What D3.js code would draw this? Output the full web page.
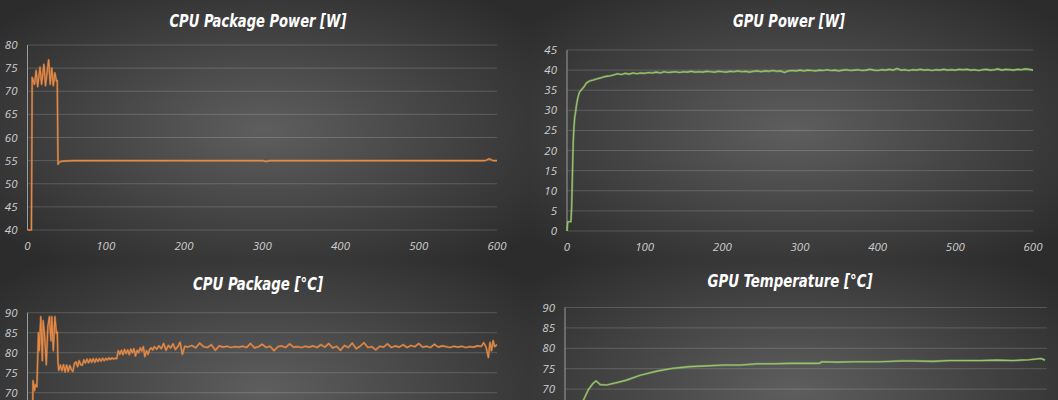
<!DOCTYPE html>
<html><head><meta charset="utf-8">
<script src="https://cdn.jsdelivr.net/npm/d3@7"></script>
<style>
html,body{margin:0;padding:0;background:#333;overflow:hidden}
svg{display:block}
</style></head><body>
<svg id="c" width="1058" height="400"></svg>
<script>
// ---------- DATA ----------
const xTicks = [0,100,200,300,400,500,600];

const cpuPowerTime  = [0,5,6,9,11,13,16,18,21,23,27,29,31,33,35,37,38,39,40,45,60,100,300,305,310,400,500,585,590,595,600];
const cpuPowerValue = [30,30,73,71.5,74.5,71,75.2,71.5,75.8,71.2,76.8,71.5,75,71.2,74,72.2,72.3,54.2,54.6,54.9,55,55,55,54.8,55,55,55,55,55.4,55,55];
const cpuPowerTicks = [40,45,50,55,60,65,70,75,80];

const gpuPowerTime = [0,1,2,5,6,7,8,9,10,11,12,14,16,19,22,25,29,33,38,42,47,52,56,
  60,65,70,75,80,85,90,95,100,105,110,115,120,125,130,135,140,145,150,155,160,165,170,175,180,185,190,195,
  200,205,210,215,220,225,230,235,240,245,250,255,260,265,270,275,280,285,290,295,300,305,310,315,320,325,
  330,335,340,345,350,355,360,365,370,375,380,385,390,395,400,405,410,415,420,425,430,435,440,445,450,455,
  460,465,470,475,480,485,490,495,500,505,510,515,520,525,530,535,540,545,550,555,560,565,570,575,580,585,590,595,600];
const gpuPowerValue = [0,2.3,2.3,2.3,6,14,22,26,28.4,29.5,31,33.2,34.5,35.2,35.9,36.8,37.3,37.5,37.8,38.0,38.3,38.5,38.6,
  38.8,39.1,38.9,39.2,39.0,39.3,39.1,39.3,39.2,39.4,39.3,39.5,39.3,39.6,39.4,39.5,39.6,39.4,39.6,39.5,39.7,39.5,39.6,39.5,39.7,39.6,39.5,39.7,
  39.6,39.5,39.7,39.6,39.8,39.6,39.7,39.5,39.7,39.8,39.6,39.8,39.7,39.9,39.7,39.8,39.4,39.8,39.9,39.8,40.0,39.8,40.0,39.9,39.8,40.0,
  39.9,40.1,39.9,40.0,39.8,40.0,40.1,39.9,40.0,40.1,39.9,40.0,40.2,40.0,39.9,40.1,40.0,40.2,40.0,40.4,40.0,40.1,39.9,40.1,40.0,40.2,
  40.0,40.1,39.9,40.1,40.0,40.2,40.0,40.1,40.0,40.2,40.1,40.2,40.0,40.1,39.9,40.1,40.2,40.0,40.1,40.3,40.0,40.2,40.1,40.0,40.2,40.1,40.3,40.2,40.0];
const gpuPowerTicks = [0,5,10,15,20,25,30,35,40,45];

const cpuTempTime = [0,6,7,9,10,12,14,15,17,19,20,22,24,26,28,30,31,33,35,37,38,39,40,
  42,44,46,48,50,52,54,56,58,60,62,64,66,68,70,72,74,76,78,80,82,84,86,88,90,92,94,96,98,100,102,104,106,108,110,112,114,
  116,118,120,122,124,126,128,130,132,134,136,138,140,142,144,146,148,150,152,154,156,158,160,162,165,168,171,174,177,180,183,186,189,192,195,198,201,
  205,210,215,220,225,230,235,240,245,250,255,260,265,270,275,280,285,290,295,300,305,310,315,320,325,330,335,340,345,350,355,360,365,370,375,380,385,390,395,
  400,405,410,415,420,425,430,435,440,445,450,455,460,465,470,475,480,485,490,495,500,505,510,515,520,525,530,535,540,545,550,555,560,565,570,575,580,583,586,589,591,593,595,597,600];
const cpuTempValue = [50,50,73,70.5,72,71.5,85,80.5,89,78,88,84,77,86.5,89,83,89,80.5,89,84.8,85.2,77.3,75.6,
  76.9,75.5,77,75.2,76.9,75.3,76.8,75.8,75.3,77.3,77.7,76.5,78,77,76.9,78.2,77.4,78.4,77.5,78.4,77.6,78.5,77.6,78.5,77.8,78.5,77.9,78.6,78,78.6,78.2,78.7,78.3,78.7,78.4,78.6,78.5,
  80.5,79.6,80.6,79.5,80.8,79.8,80.7,79.5,80.9,80.0,81.0,79.2,80.6,80.0,81.2,80.4,81.5,79.0,80.5,79.6,80.8,81.2,80.7,81.5,80.9,81.7,81.0,82.3,80.6,81.8,81.2,82.2,80.8,81.5,82.6,79.6,81.6,
  81.4,81.8,81.2,82.4,81.5,81.3,82.0,80.6,81.7,81.4,81.6,81.3,81.5,81.4,81.6,81.3,82.3,81.2,81.5,82.1,81.3,81.6,80.5,81.5,81.7,81.3,82.2,81.4,81.5,81.3,81.6,81.4,81.7,81.3,82.0,81.4,82.3,81.2,81.6,
  80.6,81.8,81.3,82.4,81.0,81.6,82.5,81.3,81.5,80.7,81.6,81.4,82.2,81.3,81.7,81.4,82.0,81.3,81.8,81.5,82.3,81.4,81.6,81.3,82.1,81.4,81.7,81.5,81.3,81.6,81.4,81.6,81.3,81.5,81.4,81.7,81.6,82.5,81.4,78.8,82.6,80.5,83.0,81.5,82.0];
const cpuTempTicks = [70,75,80,85,90];

const gpuTempTime  = [0,10,18,23,29,35,39,44,52,65,77,94,115,135,156,177,198,219,240,260,281,300,318,321,340,360,394,420,435,460,480,519,540,560,580,595,600];
const gpuTempValue = [52,60,65,67.3,69.8,71.4,72,71.1,71,71.6,72.2,73.4,74.4,75.1,75.5,75.7,75.9,75.9,76.2,76.2,76.3,76.3,76.3,76.7,76.6,76.7,76.7,76.9,76.9,76.8,77.0,77.0,77.1,77.0,77.2,77.5,77.1];
const gpuTempTicks = [70,75,80,85,90];

const titles = ["CPU Package Power [W]","GPU Power [W]","CPU Package [°C]","GPU Temperature [°C]"];

// ---------- DRAW ----------
const svg = d3.select("#c");
const defs = svg.append("defs");
const rg = defs.append("radialGradient").attr("id","bg").attr("cx","50%").attr("cy","50%").attr("r","65%");
rg.append("stop").attr("offset","0%").attr("stop-color","#5e5e5e");
rg.append("stop").attr("offset","100%").attr("stop-color","#2c2c2c");

const panels = [
  {bx:0,by:0,bw:529,bh:260, x0:27.5,x1:497,  yTop:45,  yBot:230, dom:[40,80], ticks:cpuPowerTicks, t:cpuPowerTime, v:cpuPowerValue, color:"#e68a45", title:titles[0], tx:258, ty:27, tw:177, xlab:true},
  {bx:529,by:0,bw:529,bh:260, x0:567,x1:1033, yTop:50, yBot:231, dom:[0,45], ticks:gpuPowerTicks, t:gpuPowerTime, v:gpuPowerValue, color:"#97c46c", title:titles[1], tx:789, ty:27, tw:112, xlab:true},
  {bx:0,by:260,bw:529,bh:260, x0:27.5,x1:497, yTop:312.7, yBot:512.7, dom:[40,90], ticks:cpuTempTicks, t:cpuTempTime, v:cpuTempValue, color:"#e68a45", title:titles[2], tx:258, ty:290, tw:130, xlab:false},
  {bx:529,by:260,bw:529,bh:260, x0:565,x1:1045, yTop:307.5, yBot:511.5, dom:[40,90], ticks:gpuTempTicks, t:gpuTempTime, v:gpuTempValue, color:"#97c46c", title:titles[3], tx:790, ty:287, tw:165, xlab:false}
];

panels.forEach((p,i)=>{
  svg.append("rect").attr("x",p.bx).attr("y",p.by).attr("width",p.bw).attr("height",p.bh).attr("fill","url(#bg)");
  const x = d3.scaleLinear().domain([0,600]).range([p.x0,p.x1]);
  const y = d3.scaleLinear().domain(p.dom).range([p.yBot,p.yTop]).clamp(true);
  const g = svg.append("g");
  // gridlines (full domain, every 5 units)
  const gridVals = d3.range(p.dom[0], p.dom[1]+0.1, 5);
  g.selectAll("line.grid").data(gridVals).join("line")
    .attr("x1",p.x0).attr("x2",p.x1+(i===3?2:0)).attr("y1",d=>y(d)).attr("y2",d=>y(d))
    .attr("stroke","rgba(255,255,255,0.17)").attr("stroke-width",1);
  // y axis line
  g.append("line").attr("x1",p.x0).attr("x2",p.x0).attr("y1",p.yTop).attr("y2",p.yBot)
    .attr("stroke","#9c9c9c").attr("stroke-width",1);
  // y tick labels
  g.selectAll("text.yl").data(p.ticks).join("text")
    .attr("x",p.x0-10).attr("y",d=>y(d)+4).attr("text-anchor","end")
    .attr("font-family","'Open Sans', sans-serif").attr("font-style","italic").attr("font-size",11.5)
    .attr("fill","#cdcdcd").text(d=>d);
  // x tick labels
  if (p.xlab) {
    g.selectAll("text.xl").data(xTicks).join("text")
      .attr("x",d=>x(d)).attr("y",p.yBot+20).attr("text-anchor","middle")
      .attr("font-family","'Open Sans', sans-serif").attr("font-style","italic").attr("font-size",11.5)
      .attr("fill","#cdcdcd").text(d=>d);
  }
  // line
  const data = p.t.map((t,k)=>[t,p.v[k]]);
  const line = d3.line().x(d=>x(d[0])).y(d=>y(d[1]));
  g.append("path").datum(data).attr("d",line).attr("fill","none")
    .attr("stroke",p.color).attr("stroke-width",2.2).attr("stroke-opacity",0.5).attr("stroke-linejoin","round");
  g.append("path").datum(data).attr("d",line).attr("fill","none")
    .attr("stroke",p.color).attr("stroke-width",1.1).attr("stroke-linejoin","round");
  // title
  svg.append("text").attr("x",p.tx).attr("y",p.ty).attr("text-anchor","middle")
    .attr("font-family","'DejaVu Sans Condensed','DejaVu Sans',sans-serif").attr("font-weight","bold").attr("font-style","italic")
    .attr("font-size",18).attr("fill","#ffffff")
    .attr("textLength",p.tw).attr("lengthAdjust","spacingAndGlyphs")
    .text(p.title);
});
</script>
</body></html>
